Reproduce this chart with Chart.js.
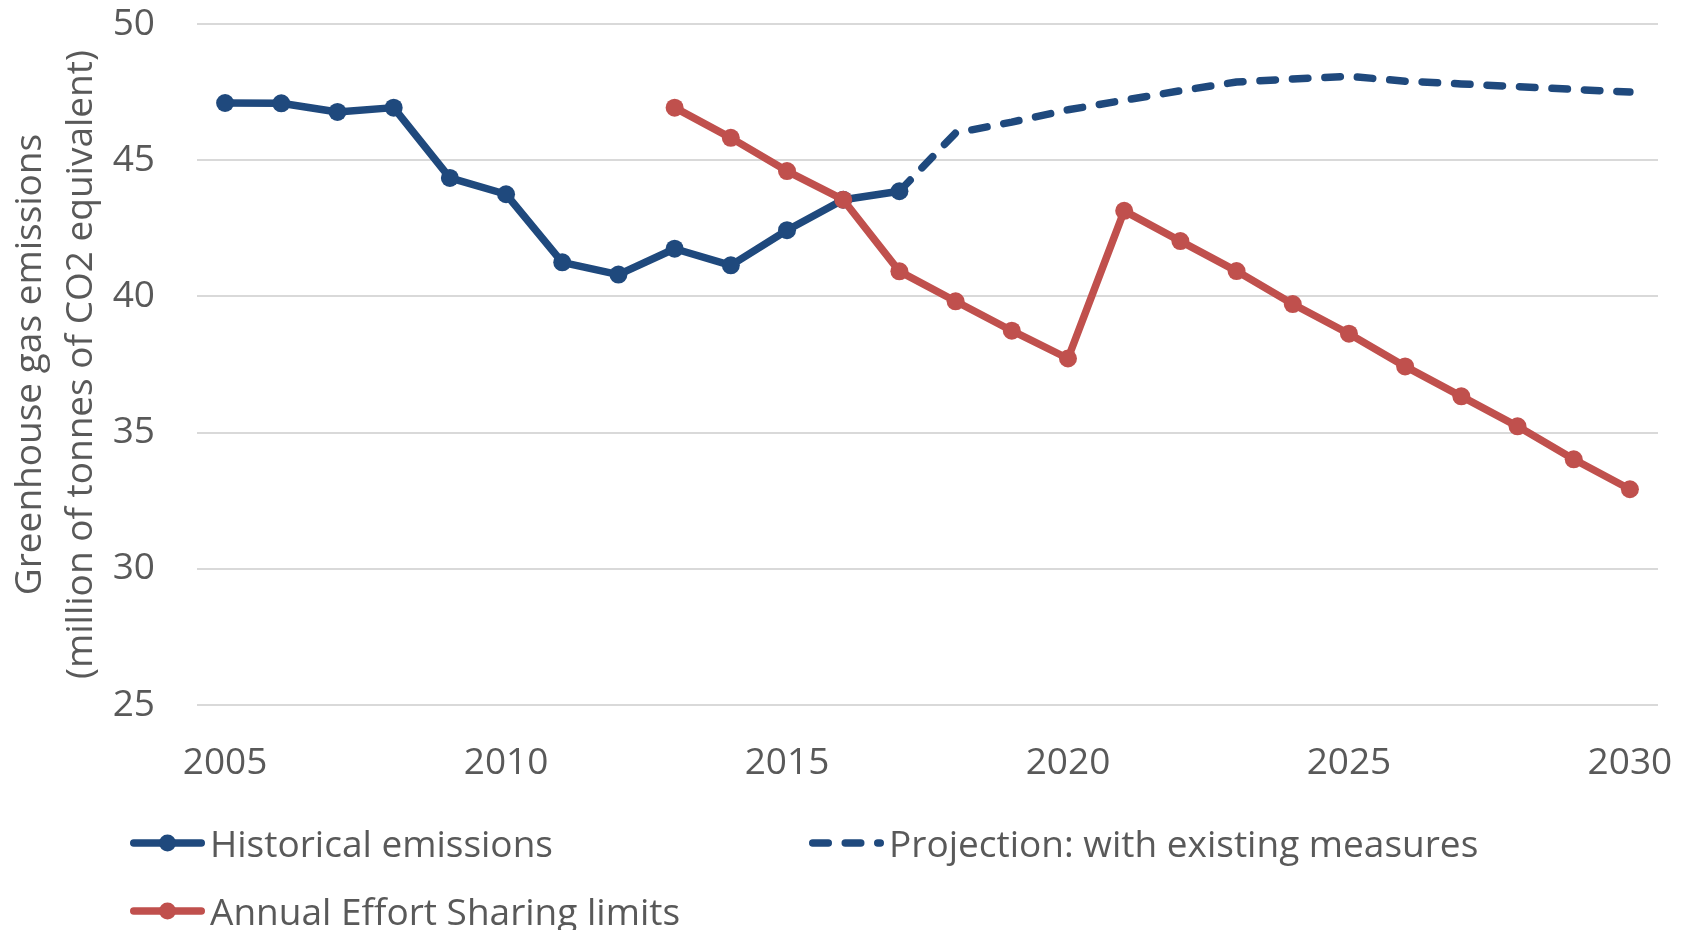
<!DOCTYPE html>
<html>
<head>
<meta charset="utf-8">
<script src="https://cdn.jsdelivr.net/npm/chart.js@4.4.1/dist/chart.umd.min.js"></script>
<style>
  html, body { margin: 0; padding: 0; background: #ffffff; }
  #wrap { width: 1692px; height: 930px; position: relative; }
</style>
</head>
<body>
<div id="wrap"><canvas id="chart" width="1692" height="930"></canvas></div>
<script>
// Years on the category axis
const years = ['2005', '2006', '2007', '2008', '2009', '2010', '2011', '2012', '2013',
  '2014', '2015', '2016', '2017', '2018', '2019', '2020', '2021', '2022', '2023',
  '2024', '2025', '2026', '2027', '2028', '2029', '2030'];

// Greenhouse gas emissions, million tonnes CO2 equivalent
const historical = [47.10, 47.09, 46.77, 46.93, 44.35, 43.75, 41.25, 40.80, 41.75,
  41.14, 42.43, 43.55, 43.86, null, null, null, null, null, null,
  null, null, null, null, null, null, null];

const projection = [null, null, null, null, null, null, null, null, null,
  null, null, null, 43.86, 46.00, 46.40, 46.85, 47.20, 47.55, 47.87,
  47.98, 48.08, 47.90, 47.80, 47.70, 47.60, 47.50];

const effortSharing = [null, null, null, null, null, null, null, null, 46.93,
  45.82, 44.60, 43.55, 40.92, 39.82, 38.74, 37.72, 43.14, 42.03, 40.93,
  39.72, 38.63, 37.43, 36.33, 35.23, 34.02, 32.92];

const seriesNames = ['Historical emissions', 'Projection: with existing measures', 'Annual Effort Sharing limits'];

const yTicks = [25, 30, 35, 40, 45, 50];
const yTitle = ['Greenhouse gas emissions', '(million of tonnes of CO2 equivalent)'];

const BLUE = '#1F497D';
const RED = '#C0504D';
const TEXT = '#595959';
const FONT = "'Open Sans', sans-serif";

// Legend laid out in two columns under the plot
const legendGrid = {
  columns: [130, 809],
  rows: [843, 911],
  sample: 75,
  gap: 80
};

const columnLegend = {
  id: 'columnLegend',
  afterDraw(chart) {
    const ctx = chart.ctx;
    chart.data.datasets.forEach((ds, i) => {
      const x = legendGrid.columns[i % 2];
      const y = legendGrid.rows[Math.floor(i / 2)];
      const w = ds.borderWidth;
      ctx.save();
      ctx.strokeStyle = ds.borderColor;
      ctx.lineWidth = w;
      ctx.lineCap = 'round';
      ctx.setLineDash(ds.borderDash || []);
      ctx.beginPath();
      ctx.moveTo(x + w / 2, y);
      ctx.lineTo(x + legendGrid.sample - w / 2, y);
      ctx.stroke();
      ctx.setLineDash([]);
      if (ds.pointRadius > 0) {
        ctx.fillStyle = ds.pointBackgroundColor;
        ctx.beginPath();
        ctx.arc(x + legendGrid.sample / 2, y, 8.5, 0, Math.PI * 2);
        ctx.fill();
      }
      ctx.fillStyle = TEXT;
      ctx.font = '37px ' + FONT;
      ctx.textBaseline = 'middle';
      ctx.textAlign = 'left';
      ctx.fillText(ds.label, x + legendGrid.gap, y + 3);
      ctx.restore();
    });
  }
};

new Chart(document.getElementById('chart'), {
  type: 'line',
  data: {
    labels: years,
    datasets: [
      {
        label: seriesNames[0],
        data: historical,
        borderColor: BLUE,
        backgroundColor: BLUE,
        borderWidth: 7.5,
        borderJoinStyle: 'round',
        pointRadius: 9,
        pointBackgroundColor: BLUE,
        pointBorderWidth: 0,
        order: 1
      },
      {
        label: seriesNames[1],
        data: projection,
        borderColor: BLUE,
        backgroundColor: BLUE,
        borderWidth: 7.5,
        borderDash: [15.5, 17],
        borderCapStyle: 'round',
        borderJoinStyle: 'round',
        pointRadius: 0,
        order: 2
      },
      {
        label: seriesNames[2],
        data: effortSharing,
        borderColor: RED,
        backgroundColor: RED,
        borderWidth: 7.5,
        borderJoinStyle: 'round',
        pointRadius: 9,
        pointBackgroundColor: RED,
        pointBorderWidth: 0,
        order: 0
      }
    ]
  },
  options: {
    responsive: false,
    animation: false,
    layout: { padding: { top: 24, right: 34, bottom: 135, left: 0 } },
    plugins: {
      legend: { display: false },
      tooltip: { enabled: false }
    },
    scales: {
      x: {
        type: 'category',
        offset: true,
        grid: { display: false, drawTicks: false },
        border: { display: false },
        ticks: {
          autoSkip: false,
          maxRotation: 0,
          padding: 36,
          color: TEXT,
          font: { family: FONT, size: 37, lineHeight: 1.2 },
          callback: function (value) {
            const y = this.getLabelForValue(value);
            return Number(y) % 5 === 0 ? y : '';
          }
        },
        afterFit(scale) {
          scale.height = 90;
          scale.paddingLeft = 0;
          scale.paddingRight = 0;
        }
      },
      y: {
        min: 25,
        max: 50,
        afterBuildTicks(scale) { scale.ticks = yTicks.map(v => ({ value: v })); },
        grid: { color: '#D9D9D9', lineWidth: 2, drawTicks: false },
        border: { display: false },
        ticks: {
          padding: 42,
          color: TEXT,
          font: { family: FONT, size: 37, lineHeight: 1.2 }
        },
        title: {
          display: true,
          text: yTitle,
          color: TEXT,
          font: { family: FONT, size: 37, lineHeight: 1.38 },
          padding: { top: 4.5, bottom: 0 }
        },
        afterFit(scale) {
          scale.width = 197;
          scale.paddingTop = 0;
          scale.paddingBottom = 0;
        }
      }
    }
  },
  plugins: [columnLegend]
});
</script>
</body>
</html>
